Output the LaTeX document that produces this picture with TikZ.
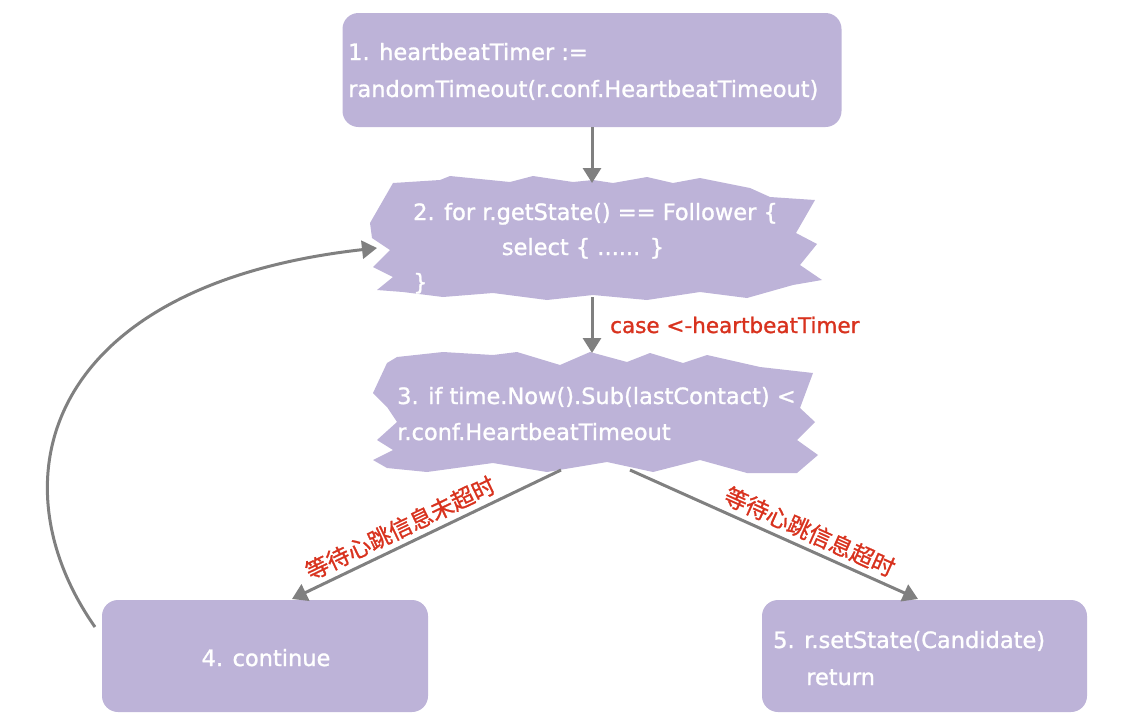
\documentclass[tikz,border=0pt]{standalone}
\usepackage{fontspec}
\setmainfont{DejaVu Sans}
\newfontfamily\boxfont{DejaVu Sans}[FakeBold=1.2]
\newfontfamily\cjk{Noto Sans CJK SC}[FakeBold=1]
\usetikzlibrary{arrows.meta}
\definecolor{boxfill}{HTML}{BDB3D8}
\definecolor{lbl}{HTML}{D8321E}
\definecolor{arr}{HTML}{808080}
\begin{document}
\begin{tikzpicture}[x=1pt,y=-1pt,
  box/.style={fill=boxfill, rounded corners=16pt, draw=none, inner sep=0pt},
  txt/.style={text=white, font=\boxfont\fontsize{22.5}{26}\selectfont, inner sep=0pt, anchor=base west},
  conn/.style={draw=arr, line width=3pt, -{Triangle[width=18pt,length=15pt]}},
  lab/.style={text=lbl, font=\boxfont\fontsize{21.5}{24}\selectfont, inner sep=0pt, anchor=base west},
  cjklab/.style={text=lbl, font=\cjk\fontsize{23}{24}\selectfont, sloped, above, inner sep=5pt}]
\useasboundingbox (0,0) rectangle (1142,723);

% boxes
\node[box, minimum width=499pt, minimum height=114pt] (b1) at (592,70) {};
\node[box, minimum width=326pt, minimum height=112pt] (b4) at (265,656) {};
\node[box, minimum width=325pt, minimum height=112pt] (b5) at (924.5,656) {};

% jagged shape 2
\fill[boxfill] (393,183) -- (440,180) -- (450,176) -- (510,182) -- (533,176) -- (573,182)
  -- (593,180) -- (613,183) -- (647,177) -- (673,183) -- (700,178) -- (750,188) -- (770,197)
  -- (815,200) -- (796,233) -- (817,244) -- (800,265) -- (822,280) -- (793,285) -- (747,298)
  -- (700,292) -- (647,300) -- (593,295) -- (547,300) -- (493,293) -- (443,297) -- (403,292)
  -- (377,290) -- (393,277) -- (373,267) -- (390,250) -- (372,238) -- (370,223) -- cycle;
% jagged shape 3
\fill[boxfill] (397,357) -- (443,352) -- (493,355) -- (517,352) -- (560,365) -- (590,352)
  -- (627,362) -- (650,353) -- (683,363) -- (707,355) -- (760,367) -- (813,373) -- (800,408)
  -- (815,422) -- (797,440) -- (818,455) -- (797,473) -- (747,473) -- (700,460) -- (653,472)
  -- (607,462) -- (547,472) -- (493,463) -- (427,472) -- (387,468) -- (373,460) -- (393,450)
  -- (377,440) -- (397,422) -- (387,407) -- (373,393) -- (387,363) -- cycle;

% texts
\node[txt] (t1a) at (348,60) {1. heartbeatTimer :=};
\node[txt] (t1b) at (348,97) {randomTimeout(r.conf.HeartbeatTimeout)};
\node[txt] (t2a) at (413,220) {2. for r.getState() == Follower \{};
\node[txt, anchor=base] (t2b) at (583,255) {select \{ ...... \}};
\node[txt] (t2c) at (413,290) {\}};
\node[txt] (t3a) at (397,404) {3. if time.Now().Sub(lastContact) <};
\node[txt] (t3b) at (397,440) {r.conf.HeartbeatTimeout};
\node[txt, anchor=base] (t4) at (266,666) {4. continue};
\node[txt] (t5a) at (773,648) {5. r.setState(Candidate)};
\node[txt] (t5b) at (806,685) {return};

% connector end points on the jagged shapes
\coordinate (p2top) at (592,183);
\coordinate (p2bot) at (592,297);
\coordinate (p2left) at (377,248);
\coordinate (p3top) at (592,353);
\coordinate (p3bl) at (561,470);
\coordinate (p3br) at (630,470);
\coordinate (p4) at (292,599);
\coordinate (p5) at (918,599);
\coordinate (c4) at (95,627);

% connectors
\draw[conn] (b1.south) -- (p2top);
\draw[conn] (p2bot) -- (p3top);
\node[lab] (l23) at (610,333) {case <-heartbeatTimer};
\draw[conn] (p3bl) -- node[cjklab, pos=0.57] (l34) {等待心跳信息未超时} (p4);
\draw[conn] (p3br) -- node[cjklab, pos=0.6] (l35) {等待心跳信息超时} (p5);
\draw[conn] (c4) .. controls (-8,480) and (45,285) .. (p2left);
\end{tikzpicture}
\end{document}
